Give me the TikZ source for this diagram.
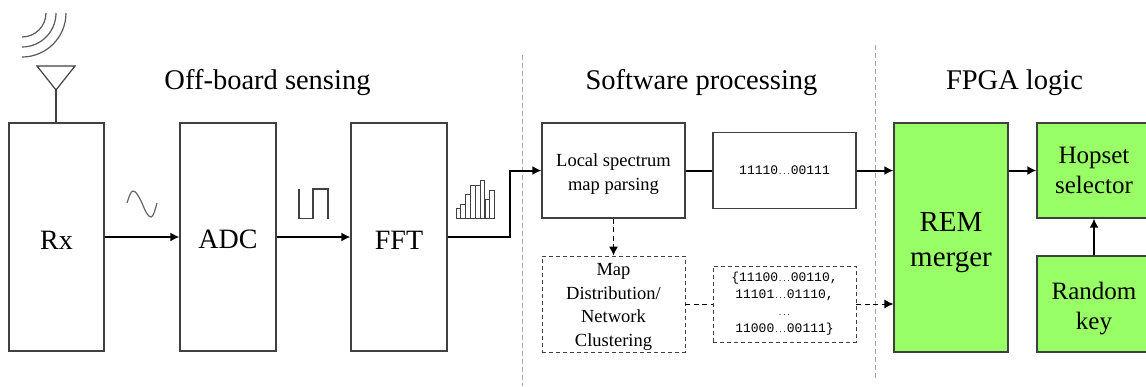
\documentclass[tikz,border=0pt]{standalone}
\usepackage{fontspec}
\usetikzlibrary{arrows.meta}
\setmainfont{Liberation Serif}
\setmonofont{Liberation Mono}
\definecolor{remgreen}{HTML}{99FF66}
\definecolor{boxline}{HTML}{404040}
\newcommand{\narrowdots}{{\fontsize{7}{7}\selectfont...}}
\tikzset{
  block/.style={draw=boxline, line width=1.1pt, align=center, inner sep=0pt},
  blockdash/.style={block, dashed, dash pattern=on 4pt off 3pt, line width=0.9pt},
  greenblock/.style={block, fill=remgreen},
  bigtext/.style={font=\fontsize{28.5}{34}\selectfont},
  midtext/.style={font=\fontsize{28}{30}\selectfont, text height=24pt},
  keytext/.style={font=\fontsize{25}{30}\selectfont},
  smalltext/.style={font=\fontsize{18.5}{23.5}\selectfont},
  bitstext/.style={font=\ttfamily\fontsize{13}{17}\selectfont},
  link/.style={-{Latex[length=9pt,width=9pt]}, line width=2pt, black},
  linkdash/.style={-{Latex[length=9pt,width=9pt]}, line width=1pt, dashed, dash pattern=on 5pt off 3.5pt},
  glyph/.style={line width=1.2pt, boxline}
}
\begin{document}
\begin{tikzpicture}[x=1pt, y=-1pt]
\useasboundingbox (0,0) rectangle (1146,386);

% column titles
\node[bigtext] (titleOff) at (267.5,83) {Off-board sensing};
\node[bigtext] (titleSw) at (701.5,83) {Software processing};
\node[bigtext] (titleFpga) at (1014.5,83) {FPGA logic};

% separators
\coordinate (sepAtop) at (522.5,55);
\coordinate (sepAbot) at (522.5,386);
\coordinate (sepBtop) at (875,45);
\coordinate (sepBbot) at (875,380);
\draw[gray!70, dashed, dash pattern=on 5pt off 3pt] (sepAtop) -- (sepAbot);
\draw[gray!70, dashed, dash pattern=on 5pt off 3pt] (sepBtop) -- (sepBbot);

% blocks
\node[block, midtext, minimum width=95pt, minimum height=228pt] (Rx) at (56.5,237) {Rx};
\node[block, midtext, minimum width=96pt, minimum height=228pt] (ADC) at (228,237) {ADC};
\node[block, midtext, minimum width=96pt, minimum height=228pt] (FFT) at (399,237) {FFT};
\node[block, smalltext, text height=43.5pt, minimum width=143pt, minimum height=95pt] (Local) at (613.5,170.5) {Local spectrum\\map parsing};
\node[block, bitstext, minimum width=143pt, minimum height=76pt] (Bits) at (784.5,170.5) {11110\narrowdots00111};
\node[blockdash, smalltext, text height=88.5pt, minimum width=143pt, minimum height=96pt] (Map) at (613.5,304) {Map\\Distribution/\\Network\\Clustering};
\node[blockdash, bitstext, minimum width=143pt, minimum height=76pt] (Set) at (784.5,304) {\{11100\narrowdots00110,\\11101\narrowdots01110,\\\narrowdots\\11000\narrowdots00111\}};
\node[greenblock, font=\fontsize{29}{35}\selectfont, text height=64pt, minimum width=114pt, minimum height=229pt] (REM) at (951,237.5) {REM\\merger};
\node[greenblock, keytext, text height=47pt, minimum width=114pt, minimum height=95pt] (Hopset) at (1094,170.5) {Hopset\\selector};
\node[greenblock, keytext, text height=56pt, minimum width=114pt, minimum height=96pt] (Random) at (1094,304) {Random\\key};

% connectors
\draw[link] (Rx) -- (ADC);
\draw[link] (ADC) -- (FFT);
\draw[link] (FFT.east) -- ++(62,0) |- (Local.west);
\draw[line width=2pt] (Local) -- (Bits);
\draw[link] (Bits.east) -- (Bits.east -| REM.west);
\draw[link] (Hopset.west -| REM.east) -- (Hopset.west);
\draw[link] (Random) -- (Hopset);
\draw[linkdash] (Local) -- (Map);
\draw[linkdash, -] (Map) -- (Set);
\draw[linkdash] (Set.east) -- (Set.east -| REM.west);

% antenna
\coordinate (mast) at (56,90);
\draw[glyph] (37,66) -- (75,66) -- (mast) -- cycle;
\draw[glyph] (mast) -- (Rx.north -| mast);
\foreach \r in {24,34,44}
  \draw[glyph, gray!70!black] (22,13+\r) arc[start angle=270, end angle=360, radius=\r pt];

% signal glyphs
\draw[glyph, gray!80!black] (127,203) sin (133,191) cos (142,203) sin (151,217) cos (157,203);
\draw[glyph] (299,189) -- (299,218.5) -- (313,218.5) -- (313,189) -- (328,189) -- (328,218.5);
\foreach \xa/\ya in {456/208.3, 460.7/204, 465.6/194.3, 470.6/185, 475.3/185, 480/180, 485/199.3, 489.7/190}
  \draw[line width=0.9pt, boxline] (\xa,218) rectangle (\xa+4.8,\ya);
\end{tikzpicture}
\end{document}
